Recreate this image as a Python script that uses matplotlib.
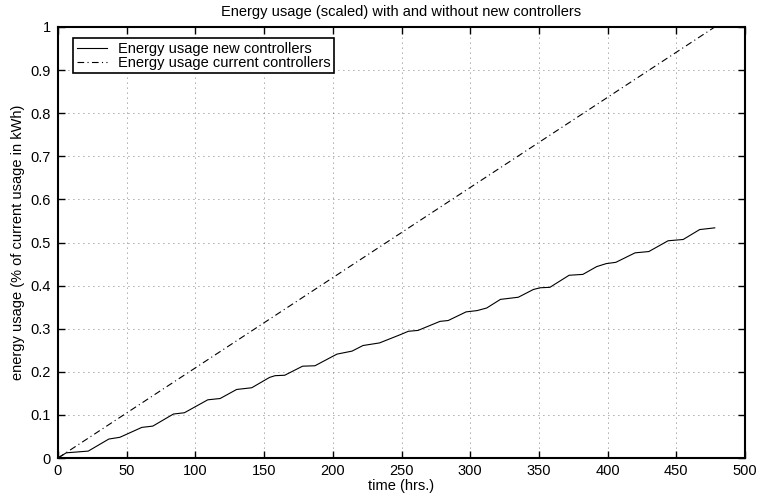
import matplotlib
matplotlib.use("Agg")
import matplotlib.pyplot as plt

# Cumulative energy usage (scaled), corner points of the new-controller curve
time_new = [0, 6, 22, 37, 45, 61, 69, 84, 92, 109, 118, 130, 141, 154, 158, 165,
            178, 187, 203, 214, 222, 234, 249, 255, 262, 278, 284, 297, 305, 312,
            322, 335, 346, 351, 358, 372, 382, 392, 399, 406, 420, 430, 444, 455,
            467, 478]
usage_new = [0.0, 0.012, 0.016, 0.044, 0.048, 0.071, 0.074, 0.102, 0.105, 0.135,
             0.138, 0.159, 0.163, 0.187, 0.191, 0.192, 0.213, 0.214, 0.241, 0.248,
             0.261, 0.267, 0.286, 0.294, 0.296, 0.317, 0.319, 0.339, 0.342, 0.348,
             0.368, 0.373, 0.391, 0.395, 0.396, 0.424, 0.426, 0.444, 0.451, 0.454,
             0.476, 0.479, 0.504, 0.507, 0.530, 0.534]

time_current = [0, 478]
usage_current = [0.0, 1.0]

x_ticks = [0, 50, 100, 150, 200, 250, 300, 350, 400, 450, 500]
y_ticks = [0, 0.1, 0.2, 0.3, 0.4, 0.5, 0.6, 0.7, 0.8, 0.9, 1]
y_tick_labels = ["0", "0.1", "0.2", "0.3", "0.4", "0.5", "0.6", "0.7", "0.8", "0.9", "1"]

plt.rcParams["font.family"] = ["Liberation Sans", "DejaVu Sans"]
FS = 10.5

fig = plt.figure(figsize=(7.59, 4.95), dpi=100)
ax = fig.add_axes([58 / 759, 37 / 495, (745 - 58) / 759, (458 - 27) / 495])

ax.plot(time_new, usage_new, color="black", linewidth=0.8,
        label="Energy usage new controllers")
ax.plot(time_current, usage_current, color="black", linewidth=0.8,
        linestyle=(0, (6, 3, 1, 3)), label="Energy usage current controllers")

ax.set_xlim(0, 500)
ax.set_ylim(0, 1)
ax.set_xticks(x_ticks)
ax.set_xticklabels([str(t) for t in x_ticks])
ax.set_yticks(y_ticks)
ax.set_yticklabels(y_tick_labels)

ax.grid(True, color="#555555", linestyle=(0, (1, 5)), linewidth=0.6)
ax.tick_params(direction="in", length=5, width=1, top=True, right=True,
               labelsize=FS)
ax.tick_params(axis="x", pad=4)
ax.tick_params(axis="y", pad=5)
for s in ax.spines.values():
    s.set_linewidth(1.5)

ax.set_title("Energy usage (scaled) with and without new controllers",
             fontsize=FS, pad=8)
ax.set_xlabel("time (hrs.)", fontsize=FS, labelpad=1)
ax.set_ylabel("energy usage (% of current usage in kWh)", fontsize=FS, labelpad=4)

leg = ax.legend(loc="upper left", bbox_to_anchor=(0.022, 0.974), frameon=True,
                fancybox=False, edgecolor="black", framealpha=1,
                handlelength=2.1, borderpad=0.25, labelspacing=0.0,
                handletextpad=0.7, fontsize=FS, borderaxespad=0)
leg.get_frame().set_linewidth(1.2)

fig.savefig("out.png", dpi=100)
